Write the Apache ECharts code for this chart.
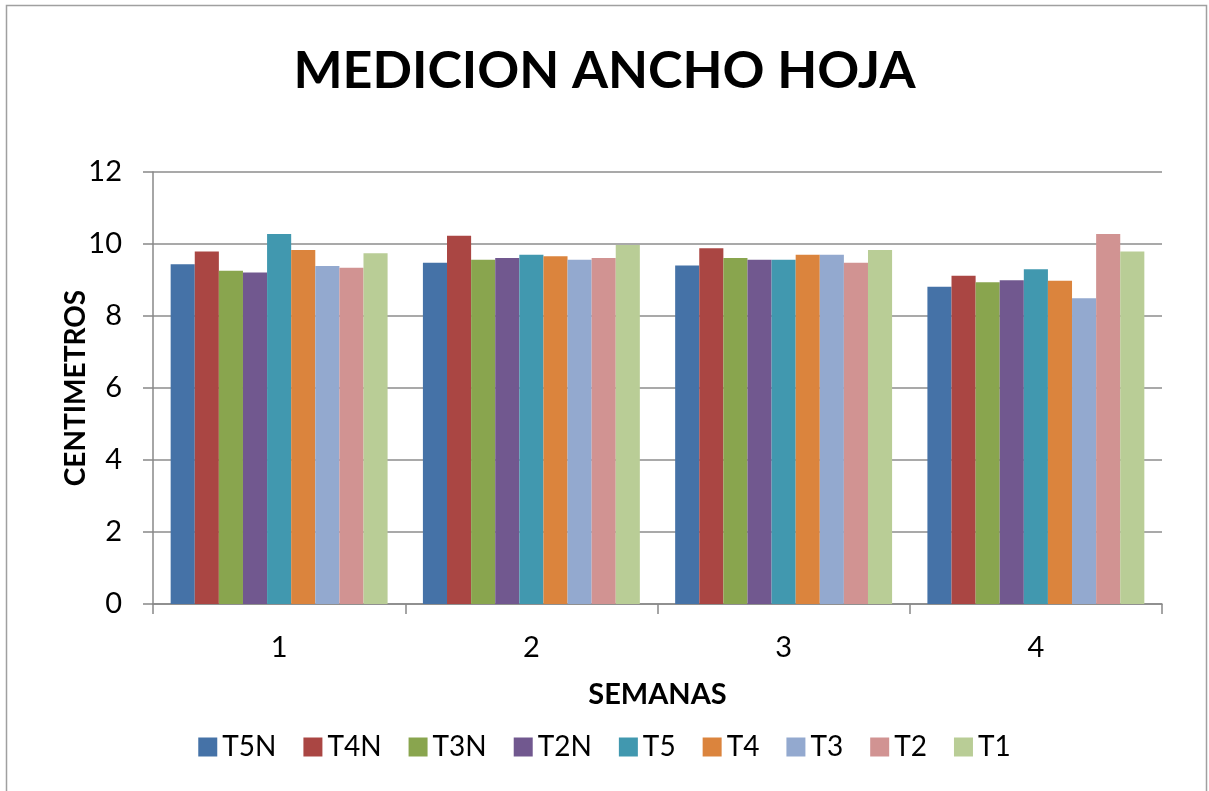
<!DOCTYPE html>
<html>
<head>
<meta charset="utf-8">
<script src="https://cdn.jsdelivr.net/npm/echarts@6/dist/echarts.min.js"></script>
<style>
  html, body { margin: 0; padding: 0; background: #fff; }
  #chart { width: 1209px; height: 791px; }
</style>
</head>
<body>
<div id="chart"></div>
<script>
// semanas
var weeks = ['1', '2', '3', '4'];
var seriesNames = ['T5N', 'T4N', 'T3N', 'T2N', 'T5', 'T4', 'T3', 'T2', 'T1'];

// ancho de hoja (cm) por tratamiento, semanas 1..4
var T5N = [9.44, 9.48, 9.40, 8.81];
var T4N = [9.79, 10.23, 9.88, 9.12];
var T3N = [9.26, 9.56, 9.61, 8.94];
var T2N = [9.21, 9.61, 9.56, 8.99];
var T5  = [10.28, 9.70, 9.56, 9.30];
var T4  = [9.83, 9.66, 9.70, 8.98];
var T3  = [9.39, 9.56, 9.70, 8.49];
var T2  = [9.34, 9.61, 9.48, 10.28];
var T1  = [9.74, 9.97, 9.83, 9.79];

var colors = ['#4572A7', '#AA4643', '#89A54E', '#71588F', '#4198AF',
              '#DB843D', '#93A9CF', '#D19392', '#B9CD96'];

var values = [T5N, T4N, T3N, T2N, T5, T4, T3, T2, T1];
var font = 'Lato, "Open Sans", sans-serif';

var chart = echarts.init(document.getElementById('chart'));

var series = seriesNames.map(function (name, i) {
  return {
    name: name,
    type: 'bar',
    data: values[i],
    barGap: '0%',
    barCategoryGap: '14%',
    itemStyle: { color: colors[i] },
    animation: false
  };
});

chart.setOption({
  backgroundColor: '#fff',
  color: colors,
  animation: false,
  title: {
    text: 'MEDICION ANCHO HOJA',
    left: 'center',
    top: 40,
    textStyle: { fontFamily: font, fontSize: 52, fontWeight: 'bold', color: '#000' }
  },
  graphic: [{
    type: 'rect',
    shape: { x: 6.5, y: 5.5, width: 1200, height: 800 },
    style: { fill: null, stroke: '#a0a0a0', lineWidth: 1.5 },
    silent: true
  }, {
    // titulo del eje Y
    type: 'text',
    x: 76,
    y: 388,
    rotation: Math.PI / 2,
    style: {
      text: 'CENTIMETROS',
      fontFamily: font,
      fontSize: 28,
      fontWeight: 'bold',
      fill: '#000',
      align: 'center',
      verticalAlign: 'middle'
    },
    silent: true
  }],
  legend: {
    data: seriesNames,
    top: 728,
    left: 'center',
    itemWidth: 19,
    itemHeight: 19,
    itemGap: 27,
    icon: 'rect',
    textStyle: { fontFamily: font, fontSize: 28, color: '#000' }
  },
  grid: { left: 153, right: 47, top: 172, bottom: 187 },
  xAxis: {
    type: 'category',
    data: weeks,
    name: 'SEMANAS',
    nameLocation: 'middle',
    nameGap: 76,
    nameTextStyle: { fontFamily: font, fontSize: 29, fontWeight: 'bold', color: '#000' },
    axisLine: { lineStyle: { color: '#888', width: 1.5 } },
    axisTick: { show: true, length: 10, alignWithLabel: false, lineStyle: { color: '#888', width: 1.5 } },
    axisLabel: { fontFamily: font, fontSize: 29, color: '#000', margin: 29 }
  },
  yAxis: {
    type: 'value',
    min: 0,
    max: 12,
    interval: 2,
    axisLine: { show: true, lineStyle: { color: '#888', width: 1.5 } },
    axisTick: { show: true, length: 10, inside: false, lineStyle: { color: '#888', width: 1.5 } },
    axisLabel: { fontFamily: font, fontSize: 29, color: '#000', margin: 31 },
    splitLine: { show: true, lineStyle: { color: '#8c8c8c', width: 1.5 } }
  },
  series: series
});
</script>
</body>
</html>
